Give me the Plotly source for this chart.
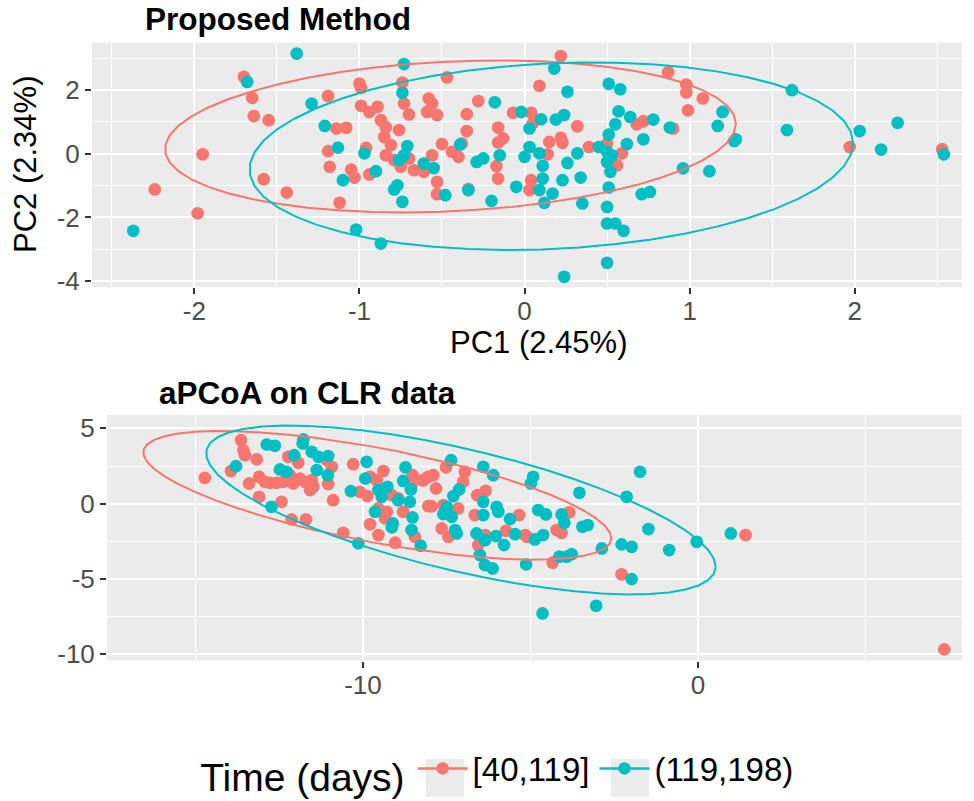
import numpy as np
import plotly.graph_objects as go

# ---------------- data ----------------
groups = ["[40,119]", "(119,198)"]
colors = ["#F8766D", "#00BFC4"]

# Panel 1: Proposed Method
pm_early_x = [-1.70, -1.65, -1.19, -1.00, -0.99, -1.64, -1.55, -1.14, -1.08, -0.99, -0.94, -0.89,
              -1.95, -1.19, -0.96, -1.18, -1.05, -1.03, -0.94, -2.24, -1.58, -1.44, -1.12, -1.98,
              -0.87, -0.84, -0.85, -0.81, -0.84, -0.79, 0.22, -0.47, -0.74, 0.09, 0.87, -0.73,
              -0.70, -0.58, -0.56, -0.59, -0.53, -0.28, -0.35, -0.76, -0.35, -0.16, -0.13, -0.16,
              -0.07, 0.04, 0.05, 0.32, 0.68, 0.72, 0.90, 0.22, 0.23, 0.15, 0.14, 0.39, 0.50, 0.59,
              0.56, -0.70, -0.75, -0.67, -0.61, -0.56, -0.50, -0.44, -0.40, -0.38, -0.17, -0.16,
              0.04, 0.03, -0.34, -0.53, -0.53, 0.98, 0.98, 1.08, 0.99, 1.97, 2.53]
pm_early_y = [2.41, 1.75, 1.81, 2.20, 2.06, 1.18, 1.05, 0.79, 0.81, 1.50, 1.31, 1.47,
              -0.02, 0.08, 0.18, -0.41, -0.50, -0.75, -0.65, -1.12, -0.80, -1.22, -1.54, -1.87,
              1.05, 0.83, 0.52, 0.27, -0.05, -0.20, 3.06, 2.39, 2.23, 2.13, 2.55, 1.57,
              1.23, 1.73, 1.57, 1.31, 1.21, 1.65, 1.24, 0.74, 0.71, 0.82, 0.48, 0.35,
              1.28, 1.28, 0.95, 0.86, 0.92, 1.02, 0.79, 0.50, 0.34, 0.37, -0.02, 0.21, 0.32, 0.01,
              -0.36, -0.15, -0.41, -0.52, -0.57, -0.05, 0.30, 0.06, -0.10, 0.32, -0.39, -0.78,
              -0.83, -1.14, -1.11, -0.88, -1.27, 2.17, 1.92, 1.73, 1.36, 0.21, 0.14]
pm_late_x = [-1.38, -1.68, -1.29, -1.21, -1.13, -0.97, -1.10, -0.90, -2.37, -1.02, -0.87, -0.77,
             -0.79, -0.73, 0.18, -0.74, 0.26, 0.51, 0.58, -0.18, -0.02, 0.10, 0.03, 0.19, 0.24,
             0.55, 0.57, 0.64, 0.78, 0.88, 0.51, 0.03, 0.00, 0.09, 0.45, 0.50, 0.53, 0.50, 0.52,
             0.62, 0.72, 0.32, 0.26, -0.71, -0.73, -0.76, -0.61, -0.55, -0.39, -0.29, -0.25,
             -0.15, 0.11, 0.11, 0.23, 0.34, 0.09, 0.17, 0.12, -0.05, -0.34, -0.48, -0.74, -0.20,
             0.35, 0.51, 0.50, 0.71, 0.76, 0.50, 0.55, 0.60, 0.50, 0.24, 1.62, 1.20, 1.17, 1.27,
             1.28, 1.59, 2.03, 2.26, 2.16, 2.54, 0.96, 1.12]
pm_late_y = [3.14, 2.25, 1.57, 0.87, 0.19, 0.01, -0.83, -0.55, -2.42, -2.38, -2.82, -0.99,
             -1.12, 2.81, 2.67, 1.91, 1.94, 2.19, 2.02, 1.61, 1.31, 1.08, 0.79, 1.07, 1.21,
             0.92, 1.33, 1.15, 1.07, 0.82, 0.60, 0.21, -0.10, 0.01, 0.21, 0.06, -0.05, -0.26, -0.57,
             0.30, 0.45, 0.01, -0.29, 0.24, -0.05, -0.20, -0.31, -0.45, 0.29, -0.26, -0.15,
             -0.05, -0.38, -0.78, -0.83, -0.75, -1.14, -1.25, -1.54, -1.04, -1.14, -1.30, -1.51, -1.48,
             -1.56, -1.06, -1.67, -1.27, -1.20, -2.19, -2.19, -2.42, -3.42, -3.86, 1.99, 1.31, 0.87, 0.40,
             0.45, 0.74, 0.71, 0.97, 0.13, -0.02, -0.46, -0.55]

# Panel 2: aPCoA on CLR data
ap_early_x = [-13.64, -13.57, -13.52, -13.17, -13.94, -14.72, -13.40, -13.10, -12.93, -12.78, -12.58,
              -12.38, -12.18, -12.08, -11.88, -11.73, -11.53, -11.48, -11.58, -12.18, -12.23, -11.93,
              -11.08, -10.93, -11.04, -13.10, -12.43, -10.89, -12.13, -11.70, -10.59, -10.29, -10.09,
              -9.87, -9.79, -9.59, -9.39, -9.14, -8.95, -8.52, -8.22, -8.05, -8.55, -9.54, -9.29,
              -9.34, -8.80, -9.79, -9.54, -9.04, -8.45, -8.05, -7.52, -6.96, -7.01, -8.20, -7.90,
              -7.82, -6.59, -6.34, -7.95, -7.60, -7.16, -6.66, -5.34, -3.84, -7.65, -7.45, -6.36,
              -6.56, -5.73, -5.16, -5.11, -4.22, -4.07, -4.34, -2.28, 1.42, 7.35]
ap_early_y = [4.22, 3.55, 3.22, 2.94, 2.16, 1.71, 1.34, 1.78, 1.45, 1.38, 1.38,
              1.45, 1.56, 1.34, 1.67, 1.45, 1.56, 1.12, 0.90, 1.89, 3.11, 2.71,
              2.89, 2.45, 1.30, 0.45, 0.12, 0.23, -1.05, -1.05, -1.94, 2.62, 0.78,
              0.50, 1.78, 1.56, 2.16, 0.56, 0.35, 1.89, 1.56, 1.78, 1.23, -0.32, -0.54,
              -0.98, -0.54, -1.38, -2.09, -2.60, -2.21, -0.17, 2.41, 2.11, 1.45, 1.56, 1.89,
              1.01, 0.56, 0.85, -0.17, -0.10, -0.32, -0.76, -0.76, -0.58, -1.65, -2.21, -2.09,
              -2.76, -1.81, -2.09, -2.21, -1.76, -1.94, -3.93, -4.70, -2.09, -9.69]
ap_late_x = [-12.87, -12.63, -11.78, -11.80, -13.79, -12.48, -12.28, -12.05, -11.53, -11.33, -11.04,
             -11.38, -11.05, -12.73, -10.14, -9.89, -10.36, -9.93, -9.54, -9.27, -9.44, -8.73,
             -8.80, -8.57, -8.60, -8.95, -9.64, -8.52, -8.55, -9.11, -9.14, -8.28, -7.37, -6.41,
             -6.11, -7.13, -7.30, -6.41, -4.92, -4.99, -3.54, -2.13, -1.73, -7.50, -7.60, -7.35,
             -6.41, -6.01, -5.96, -5.61, -4.77, -4.54, -4.07, -3.99, -3.45, -3.29, -7.25, -7.20,
             -6.61, -6.36, -6.03, -5.79, -5.46, -4.87, -4.62, -6.51, -6.36, -6.13, -5.13, -4.14,
             -3.92, -3.77, -2.87, -2.28, -1.98, -1.48, -0.86, -0.04, -1.98, -3.04, -4.64, 0.98]
ap_late_y = [3.93, 3.84, 4.27, 4.00, 2.49, 2.27, 2.11, 3.22, 3.44, 3.11, 3.16,
             2.23, 1.89, -0.21, -2.64, 2.78, 0.83, 1.67, 0.90, 1.12, 0.45, 2.41,
             1.51, 0.94, 0.12, 0.23, -0.54, -0.92, -1.76, -1.32, -1.58, -2.80, 2.89, 2.45,
             1.89, 0.94, 0.50, 0.12, 1.78, 1.34, 0.72, 0.45, 2.11, -0.21, -0.70, -0.88,
             -0.76, -0.21, -0.54, -1.03, -0.43, -0.72, -0.72, -1.28, -1.54, -1.43, -1.76, -1.98,
             -1.98, -2.43, -2.16, -2.76, -2.03, -2.38, -2.09, -3.42, -4.09, -4.31, -4.04, -3.53,
             -3.53, -3.36, -2.98, -2.71, -2.87, -1.69, -3.09, -2.54, -5.02, -6.79, -7.30, -1.98]

pm_xticks = [-2, -1, 0, 1, 2]
pm_yticks = [-4, -2, 0, 2]
ap_xticks = [-10, 0]
ap_yticks = [-10, -5, 0, 5]

titles = ["Proposed Method", "aPCoA on CLR data"]
pm_xlabel = "PC1 (2.45%)"
pm_ylabel = "PC2 (2.34%)"
legend_title = "Time (days)"


# ---------------- ggplot2 stat_ellipse (type = "t", level = 0.95) ----------------
def cov_trob(X, nu=5, maxit=25, tol=0.01):
    n, p = X.shape
    wt = np.ones(n)
    loc = X.mean(axis=0)
    w = np.sqrt(wt)
    Xc = X - loc
    for _ in range(maxit):
        w0 = w
        Xc = X - loc
        _, d, Vt = np.linalg.svd(np.sqrt(w / w.sum())[:, None] * Xc, full_matrices=False)
        wX = Xc @ Vt.T @ np.diag(1.0 / d)
        Q = (wX ** 2).sum(axis=1)
        w = wt * (nu + p) / (nu + Q)
        loc = (w[:, None] * X).sum(axis=0) / w.sum()
        if np.all(np.abs(w - w0) < tol):
            break
    sX = np.sqrt(w)[:, None] * Xc
    return sX.T @ sX / wt.sum(), loc


def ellipse(xs, ys, level=0.95, segments=51):
    X = np.column_stack([xs, ys])
    shape, center = cov_trob(X)
    dfd = len(xs) - 1
    f = (dfd / 2.0) * ((1 - level) ** (-2.0 / dfd) - 1)  # qf(level, 2, dfd)
    radius = np.sqrt(2 * f)
    ang = np.arange(segments + 1) * 2 * np.pi / segments
    circ = np.column_stack([np.cos(ang), np.sin(ang)])
    R = np.linalg.cholesky(shape).T
    e = center + radius * (circ @ R)
    return e[:, 0], e[:, 1]


fig = go.Figure()
panels = [
    ("x", "y", [(pm_early_x, pm_early_y), (pm_late_x, pm_late_y)]),
    ("x2", "y2", [(ap_early_x, ap_early_y), (ap_late_x, ap_late_y)]),
]
for xa, ya, data in panels:
    for (gx, gy), col in zip(data, colors):
        fig.add_trace(go.Scatter(x=gx, y=gy, mode="markers", xaxis=xa, yaxis=ya,
                                 marker=dict(color=col, size=12.7, line=dict(width=0)),
                                 showlegend=False, hoverinfo="skip"))
    for (gx, gy), col in zip(data, colors):
        ex, ey = ellipse(np.array(gx), np.array(gy))
        fig.add_trace(go.Scatter(x=ex, y=ey, mode="lines", xaxis=xa, yaxis=ya,
                                 line=dict(color=col, width=2), showlegend=False,
                                 hoverinfo="skip"))

for g, col in zip(groups, colors):
    fig.add_trace(go.Scatter(x=[None], y=[None], mode="lines+markers", name=g,
                             line=dict(color=col, width=2.5),
                             marker=dict(color=col, size=12.5)))

W, H = 974, 801
FONT = "Liberation Sans, Arial, sans-serif"
tickfont = dict(family=FONT, size=26, color="#4D4D4D")


def ax(domain, rng, vals, minor_vals, anchor, standoff=0):
    return dict(domain=domain, range=rng, anchor=anchor, tickmode="array", tickvals=vals,
                ticktext=[str(v) for v in vals], showgrid=True, gridcolor="white",
                gridwidth=2, zeroline=False, showline=False, ticks="outside",
                ticklen=6, tickwidth=2, tickcolor="#333333", tickfont=tickfont,
                ticklabelstandoff=standoff,
                minor=dict(tickmode="array", tickvals=minor_vals, showgrid=True,
                           gridcolor="white", gridwidth=1, ticks=""),
                fixedrange=True)


fig.update_layout(
    width=W, height=H, autosize=False,
    margin=dict(l=0, r=0, t=0, b=0, autoexpand=False),
    paper_bgcolor="white", plot_bgcolor="#EBEBEB",
    font=dict(family=FONT),
    xaxis=ax([92 / W, 962 / W], [-2.62, 2.65], pm_xticks, [-2.5, -1.5, -0.5, 0.5, 1.5, 2.5], "y", -6),
    yaxis=ax([1 - 287.3 / H, 1 - 42.7 / H], [-4.19, 3.48], pm_yticks, [-3, -1, 1, 3], "x"),
    xaxis2=ax([107 / W, 962 / W], [-17.64, 7.88], ap_xticks, [-15, -5, 5], "y2", -5),
    yaxis2=ax([1 - 660.5 / H, 1 - 415 / H], [-10.43, 5.89], ap_yticks, [-7.5, -2.5, 2.5], "x2"),
    showlegend=True,
    legend=dict(orientation="h", x=0.512, xanchor="center", y=1 - 771 / H, yanchor="middle",
                itemwidth=50,
                title=dict(text=legend_title, font=dict(family=FONT, size=39, color="black")),
                font=dict(family=FONT, size=33, color="black"),
                bgcolor="rgba(0,0,0,0)"),
)

# grey legend-key backgrounds (ggplot legend.key)
key_boxes = [(426, 464), (611, 649)]
fig.update_layout(shapes=[
    dict(type="rect", xref="paper", yref="paper", x0=a / W, x1=b / W,
         y0=1 - 797 / H, y1=1 - 759 / H, fillcolor="#EBEBEB", line=dict(width=0),
         layer="below")
    for a, b in key_boxes
])

ann = [
    dict(text="<b>%s</b>" % titles[0], x=143 / W, y=1 - 19 / H, xanchor="left", yanchor="middle",
         font=dict(family=FONT, size=31.5, color="black")),
    dict(text="<b>%s</b>" % titles[1], x=157 / W, y=1 - 392.5 / H, xanchor="left", yanchor="middle",
         font=dict(family=FONT, size=31.5, color="black")),
    dict(text=pm_xlabel, x=538 / W, y=1 - 343 / H, xanchor="center", yanchor="middle",
         font=dict(family=FONT, size=31, color="black")),
    dict(text=pm_ylabel, x=25 / W, y=1 - 165 / H, xanchor="center", yanchor="middle",
         textangle=-90, font=dict(family=FONT, size=31, color="black")),
]
for a in ann:
    a.update(xref="paper", yref="paper", showarrow=False)
fig.update_layout(annotations=ann)

fig.write_html("out.html", config={"displayModeBar": False},
               post_script="document.body.style.margin='0px';")
